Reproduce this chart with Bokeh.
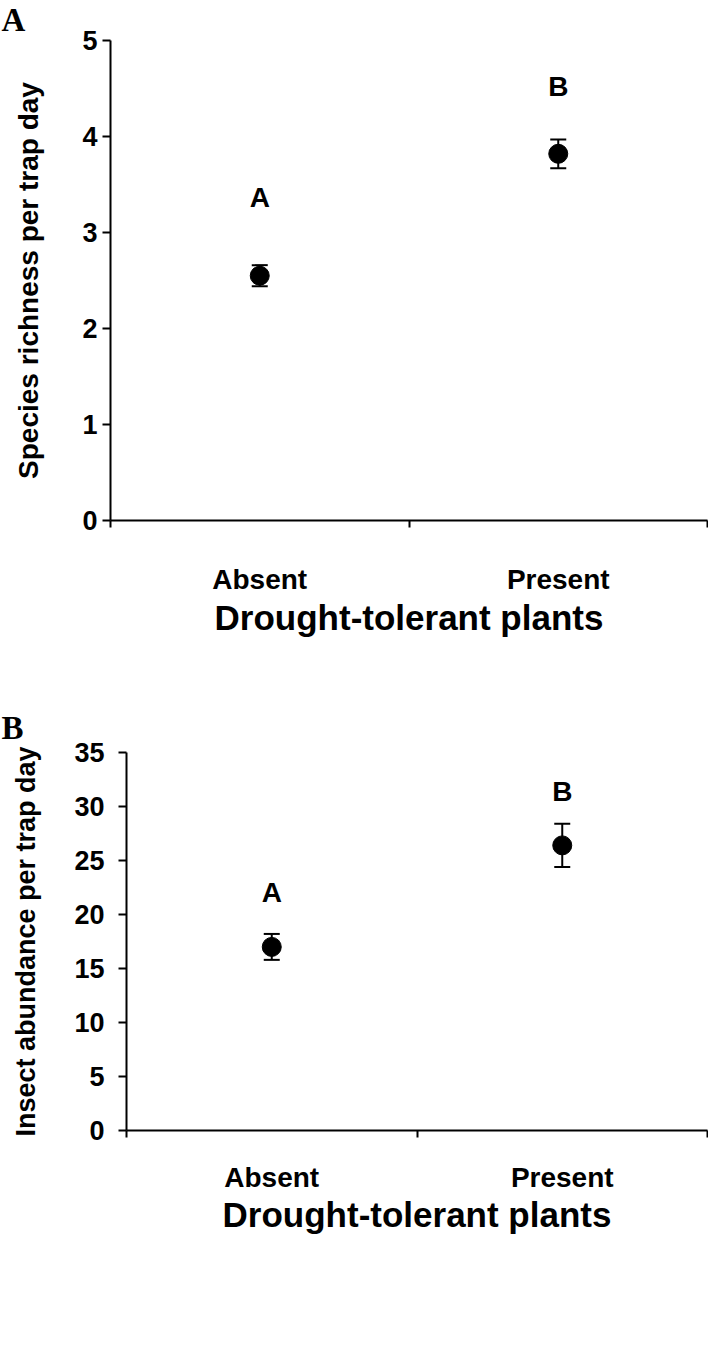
from bokeh.plotting import figure
from bokeh.models import (Range1d, FixedTicker, ColumnDataSource, Whisker, TeeHead, Title)
from bokeh.core.properties import value
from bokeh.embed import file_html
from bokeh.resources import INLINE

# ---- data ----
categories = ["Absent", "Present"]

richness_mean = [2.55, 3.82]
richness_se = [0.11, 0.15]
richness_letters = ["A", "B"]
richness_letter_y = [3.36, 4.52]

abundance_mean = [17.0, 26.4]
abundance_se = [1.2, 2.0]
abundance_letters = ["A", "B"]
abundance_letter_y = [22.0, 31.4]

richness_ticks = [0, 1, 2, 3, 4, 5]
abundance_ticks = [0, 5, 10, 15, 20, 25, 30, 35]

SANS = "Liberation Sans"
SERIF = "Liberation Serif"


def make_panel(panel_letter, means, ses, letters, letter_y, yticks, ylabel,
               width, height, border_left, border_top, border_bottom,
               ytick_standoff, ylabel_size, ylabel_standoff,
               xlabel_standoff, xtitle_standoff, title_valign, title_standoff):
    n = len(categories)
    xs = [2 * i + 1 for i in range(n)]
    p = figure(width=width, height=height, output_backend="svg", toolbar_location=None,
               x_range=Range1d(0, 2 * n), y_range=Range1d(yticks[0], yticks[-1]),
               min_border_left=border_left, min_border_right=1,
               min_border_top=border_top, min_border_bottom=border_bottom)
    p.outline_line_color = None
    p.xgrid.visible = False
    p.ygrid.visible = False
    p.background_fill_color = "white"
    p.border_fill_color = "white"

    t = Title(text=panel_letter, align="left", offset=-(border_left - 1),
              vertical_align=title_valign,
              text_font=SERIF, text_font_style="bold", text_font_size="33px",
              text_color="black", standoff=title_standoff)
    p.add_layout(t, "above")

    # x axis: labels at category centres, tick marks at boundaries
    xa = p.xaxis[0]
    xa.ticker = FixedTicker(ticks=xs, minor_ticks=[2 * i for i in range(n + 1)])
    xa.major_label_overrides = {x: c for x, c in zip(xs, categories)}
    xa.major_tick_out = 0
    xa.major_tick_in = 0
    xa.minor_tick_out = 7
    xa.minor_tick_in = 0
    xa.minor_tick_line_width = 2
    xa.minor_tick_line_color = "black"
    xa.axis_line_width = 2
    xa.axis_line_color = "black"
    xa.major_label_text_font = SANS
    xa.major_label_text_font_style = "bold"
    xa.major_label_text_font_size = "28px"
    xa.major_label_text_color = "black"
    xa.major_label_standoff = xlabel_standoff
    xa.axis_label = "Drought-tolerant plants"
    xa.axis_label_text_font = SANS
    xa.axis_label_text_font_style = "bold"
    xa.axis_label_text_font_size = "35px"
    xa.axis_label_text_color = "black"
    xa.axis_label_standoff = xtitle_standoff

    ya = p.yaxis[0]
    ya.ticker = FixedTicker(ticks=yticks)
    ya.major_tick_out = 8
    ya.major_tick_in = 0
    ya.major_tick_line_width = 2
    ya.major_tick_line_color = "black"
    ya.minor_tick_line_color = None
    ya.axis_line_width = 2
    ya.axis_line_color = "black"
    ya.major_label_text_font = SANS
    ya.major_label_text_font_style = "bold"
    ya.major_label_text_font_size = "27px"
    ya.major_label_text_color = "black"
    ya.major_label_standoff = ytick_standoff
    ya.axis_label = ylabel
    ya.axis_label_text_font = SANS
    ya.axis_label_text_font_style = "bold"
    ya.axis_label_text_font_size = ylabel_size
    ya.axis_label_text_color = "black"
    ya.axis_label_standoff = ylabel_standoff

    upper = [m + s for m, s in zip(means, ses)]
    lower = [m - s for m, s in zip(means, ses)]
    src = ColumnDataSource(dict(x=xs, mean=means, upper=upper, lower=lower,
                                letter=letters, ly=letter_y))
    w = Whisker(source=src, base="x", upper="upper", lower="lower",
                line_color="black", line_width=2,
                upper_head=TeeHead(size=16, line_color="black", line_width=2),
                lower_head=TeeHead(size=16, line_color="black", line_width=2))
    p.add_layout(w)
    p.scatter("x", "mean", source=src, size=19, color="black")
    p.text("x", "ly", text="letter", source=src, text_align="center",
           text_baseline="middle", text_font=value(SANS), text_font_style="bold",
           text_font_size="28px", text_color="black")
    return p


pA = make_panel("A", richness_mean, richness_se, richness_letters, richness_letter_y,
                richness_ticks, "Species richness per trap day",
                width=708, height=650, border_left=110, border_top=40, border_bottom=130,
                ytick_standoff=5, ylabel_size="28px", ylabel_standoff=35,
                xlabel_standoff=36, xtitle_standoff=0,
                title_valign="top", title_standoff=2)
pB = make_panel("B", abundance_mean, abundance_se, abundance_letters, abundance_letter_y,
                abundance_ticks, "Insect abundance per trap day",
                width=708, height=590, border_left=126, border_top=102, border_bottom=110,
                ytick_standoff=14, ylabel_size="27px", ylabel_standoff=30,
                xlabel_standoff=24, xtitle_standoff=-1,
                title_valign="bottom", title_standoff=14)

open("out.html", "w").write(file_html([pA, pB], INLINE))
